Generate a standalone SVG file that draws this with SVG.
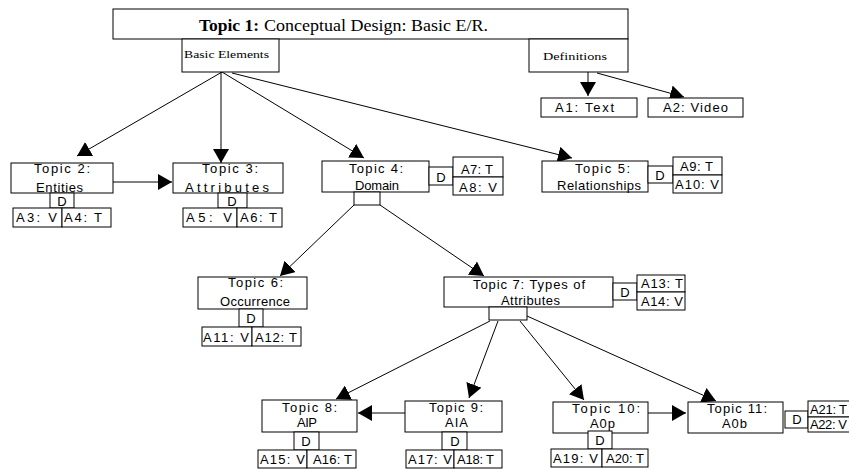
<svg xmlns="http://www.w3.org/2000/svg" width="849" height="469" viewBox="0 0 849 469">
<style>
.bx{fill:#fff;stroke:#000;stroke-width:1}
.t{font-family:"Liberation Sans",Arial,sans-serif;font-size:13px;fill:#000}
.d{font-family:"Liberation Sans",Arial,sans-serif;font-size:13px;fill:#000;text-anchor:middle}
.s{font-family:"Liberation Serif","Times New Roman",serif;fill:#000}
.c{stroke:#000;stroke-width:1;fill:none;marker-end:url(#ah)}
</style>
<defs>
<marker id="ah" markerWidth="14" markerHeight="16" refX="14" refY="8" orient="auto" markerUnits="userSpaceOnUse"><path d="M0,0 L14,8 L0,16 z" fill="#000"/></marker>
</defs>
<rect width="849" height="469" fill="#fff"/>
<g id="connectors">
<line class="c" x1="222" y1="72" x2="77" y2="156"/>
<line class="c" x1="221" y1="72" x2="221" y2="163"/>
<line class="c" x1="222" y1="72" x2="364" y2="158"/>
<line class="c" x1="232" y1="73" x2="572" y2="158"/>
<line class="c" x1="588" y1="72" x2="588" y2="96"/>
<line class="c" x1="597" y1="73" x2="684" y2="97"/>
<line class="c" x1="113" y1="182" x2="172" y2="182"/>
<line class="c" x1="354" y1="205" x2="280" y2="276"/>
<line class="c" x1="380" y1="205" x2="484" y2="276"/>
<line class="c" x1="490" y1="321" x2="336" y2="399"/>
<line class="c" x1="498" y1="321" x2="469" y2="398"/>
<line class="c" x1="520" y1="321" x2="584" y2="400"/>
<line class="c" x1="527" y1="316" x2="716" y2="401"/>
<line class="c" x1="405" y1="413" x2="358" y2="413"/>
<line class="c" x1="648" y1="413" x2="686" y2="413"/>
</g>
<g id="topic1">
<rect class="bx" x="113" y="9" width="515" height="30" stroke-width="1.3"/>
<text class="s" x="199" y="31" font-size="17" font-weight="bold" textLength="60" lengthAdjust="spacingAndGlyphs">Topic 1:</text>
<text class="s" x="264" y="31" font-size="17" textLength="224" lengthAdjust="spacingAndGlyphs">Conceptual Design: Basic E/R.</text>
</g>
<g id="basic-elements">
<rect class="bx" x="182" y="39" width="97" height="33"/>
<text class="s" x="184" y="58" font-size="11" textLength="85" lengthAdjust="spacingAndGlyphs">Basic Elements</text>
</g>
<g id="definitions">
<rect class="bx" x="529" y="39" width="99" height="33"/>
<text class="s" x="543" y="60" font-size="11" textLength="64" lengthAdjust="spacingAndGlyphs">Definitions</text>
</g>
<g id="a1">
<rect class="bx" x="541" y="98" width="96" height="19"/>
<text class="t" x="555" y="112" textLength="59">A1: Text</text>
</g>
<g id="a2">
<rect class="bx" x="648" y="98" width="95" height="19"/>
<text class="t" x="663" y="112" textLength="65">A2: Video</text>
</g>
<g id="topic2">
<rect class="bx" x="11" y="163" width="102" height="30"/>
<text class="t" x="34" y="173" textLength="56">Topic 2:</text>
<text class="t" x="36" y="192" textLength="47">Entities</text>
<rect class="bx" x="50" y="193" width="24" height="15"/>
<text class="d" x="62" y="206">D</text>
<rect class="bx" x="13" y="208" width="49" height="19"/>
<text class="t" x="16" y="222" textLength="41">A3: V</text>
<rect class="bx" x="62" y="208" width="49" height="19"/>
<text class="t" x="64" y="222" textLength="38">A4: T</text>
</g>
<g id="topic3">
<rect class="bx" x="173" y="163" width="110" height="30"/>
<text class="t" x="202" y="173" textLength="56">Topic 3:</text>
<text class="t" x="185" y="192" textLength="84">Attributes</text>
<rect class="bx" x="218" y="193" width="29" height="15"/>
<text class="d" x="232" y="206">D</text>
<rect class="bx" x="183" y="208" width="54" height="19"/>
<text class="t" x="186" y="222" textLength="46">A5: V</text>
<rect class="bx" x="237" y="208" width="45" height="19"/>
<text class="t" x="240" y="222" textLength="37">A6: T</text>
</g>
<g id="topic4">
<rect class="bx" x="322" y="161" width="107" height="31"/>
<text class="t" x="349" y="173" textLength="54">Topic 4:</text>
<text class="t" x="355" y="190" textLength="44">Domain</text>
<rect class="bx" x="354" y="192" width="26" height="13"/>
<rect class="bx" x="429" y="167" width="24" height="18" stroke-width="1.5"/>
<text class="d" x="441" y="182">D</text>
<rect class="bx" x="453" y="157" width="50" height="20"/>
<text class="t" x="461" y="174" textLength="32">A7: T</text>
<rect class="bx" x="453" y="177" width="50" height="18"/>
<text class="t" x="459" y="192" textLength="38">A8: V</text>
</g>
<g id="topic5">
<rect class="bx" x="542" y="161" width="106" height="31"/>
<text class="t" x="575" y="173" textLength="55">Topic 5:</text>
<text class="t" x="557" y="190" textLength="84">Relationships</text>
<rect class="bx" x="648" y="166" width="25" height="17" stroke-width="1.5"/>
<text class="d" x="660" y="180">D</text>
<rect class="bx" x="673" y="157" width="49" height="18"/>
<text class="t" x="680" y="171" textLength="33">A9: T</text>
<rect class="bx" x="673" y="175" width="49" height="18"/>
<text class="t" x="675" y="189" textLength="44">A10: V</text>
</g>
<g id="topic6">
<rect class="bx" x="198" y="277" width="109" height="32"/>
<text class="t" x="228" y="287" textLength="55">Topic 6:</text>
<text class="t" x="220" y="306" textLength="70">Occurrence</text>
<rect class="bx" x="239" y="309" width="24" height="18"/>
<text class="d" x="251" y="323">D</text>
<rect class="bx" x="202" y="327" width="50" height="19"/>
<text class="t" x="203" y="342" textLength="46">A11: V</text>
<rect class="bx" x="252" y="327" width="49" height="19"/>
<text class="t" x="255" y="342" textLength="42">A12: T</text>
</g>
<g id="topic7">
<rect class="bx" x="444" y="277" width="169" height="30"/>
<text class="t" x="473" y="289" textLength="112">Topic 7: Types of</text>
<text class="t" x="501" y="305" textLength="59">Attributes</text>
<rect class="bx" x="489" y="307" width="38" height="13"/>
<rect class="bx" x="613" y="283" width="24" height="17"/>
<text class="d" x="625" y="297">D</text>
<rect class="bx" x="637" y="275" width="48" height="17"/>
<text class="t" x="641" y="288" textLength="42">A13: T</text>
<rect class="bx" x="637" y="292" width="48" height="18"/>
<text class="t" x="641" y="306" textLength="42">A14: V</text>
</g>
<g id="topic8">
<rect class="bx" x="262" y="400" width="95" height="32"/>
<text class="t" x="282" y="412" textLength="55">Topic 8:</text>
<text class="t" x="297" y="427" textLength="20">AIP</text>
<rect class="bx" x="294" y="432" width="25" height="18"/>
<text class="d" x="306" y="446">D</text>
<rect class="bx" x="258" y="450" width="49" height="18"/>
<text class="t" x="260" y="464" textLength="45">A15: V</text>
<rect class="bx" x="307" y="450" width="49" height="18"/>
<text class="t" x="313" y="464" textLength="39">A16: T</text>
</g>
<g id="topic9">
<rect class="bx" x="405" y="401" width="97" height="31"/>
<text class="t" x="429" y="412" textLength="54">Topic 9:</text>
<text class="t" x="445" y="427" textLength="23">AIA</text>
<rect class="bx" x="442" y="432" width="25" height="18"/>
<text class="d" x="455" y="446">D</text>
<rect class="bx" x="406" y="450" width="48" height="18"/>
<text class="t" x="408" y="464" textLength="44">A17: V</text>
<rect class="bx" x="454" y="450" width="48" height="18"/>
<text class="t" x="457" y="464" textLength="37">A18: T</text>
</g>
<g id="topic10">
<rect class="bx" x="553" y="402" width="95" height="31"/>
<text class="t" x="572" y="413" textLength="68">Topic 10:</text>
<text class="t" x="590" y="428" textLength="25">A0p</text>
<rect class="bx" x="588" y="431" width="24" height="18"/>
<text class="d" x="600" y="445">D</text>
<rect class="bx" x="551" y="449" width="51" height="18"/>
<text class="t" x="553" y="463" textLength="45">A19: V</text>
<rect class="bx" x="602" y="449" width="46" height="18"/>
<text class="t" x="606" y="463" textLength="38">A20: T</text>
</g>
<g id="topic11">
<rect class="bx" x="688" y="402" width="95" height="31"/>
<text class="t" x="707" y="413" textLength="60">Topic 11:</text>
<text class="t" x="722" y="428" textLength="25">A0b</text>
<rect class="bx" x="785" y="411" width="23" height="17"/>
<text class="d" x="797" y="424">D</text>
<rect class="bx" x="808" y="401" width="50" height="16"/>
<text class="t" x="810" y="414" font-size="12" textLength="37">A21: T</text>
<rect class="bx" x="808" y="417" width="50" height="15"/>
<text class="t" x="810" y="429" font-size="12" textLength="37">A22: V</text>
</g>
</svg>
